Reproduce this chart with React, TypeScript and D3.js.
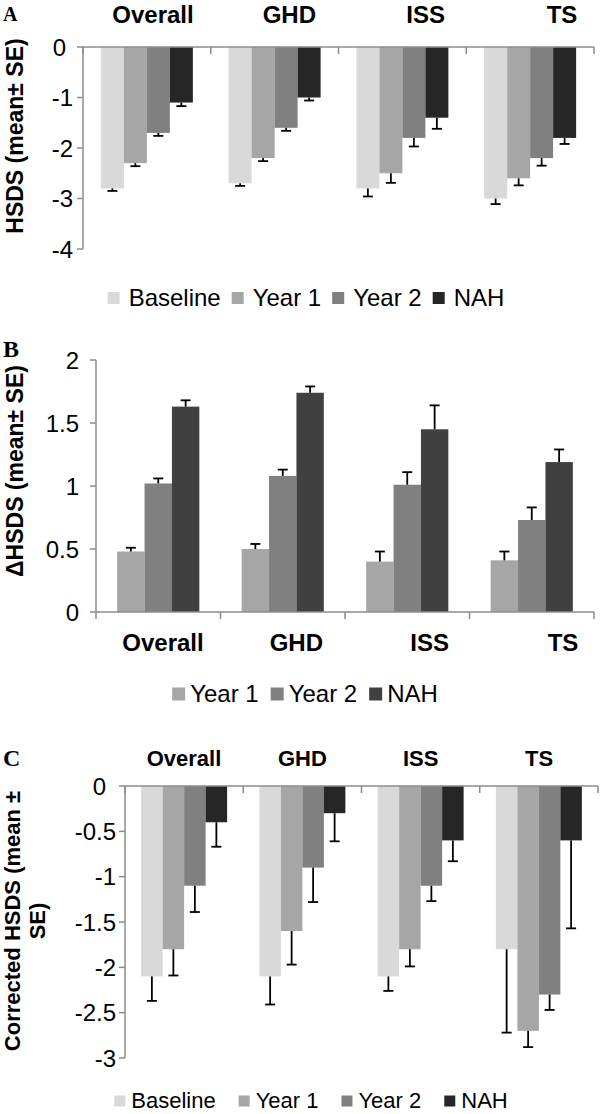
import React from 'react';
import * as d3 from 'd3';

const FONT = "'Liberation Sans', Arial, Helvetica, sans-serif";
const SERIF = "'Liberation Serif', 'Times New Roman', serif";

const categories = ['Overall', 'GHD', 'ISS', 'TS'];

// panel A: HSDS at baseline, year 1, year 2 and near adult height
const aBaseline = [-2.8, -2.7, -2.8, -3.0];
const aBaselineSE = [0.05, 0.05, 0.16, 0.11];
const aYear1 = [-2.3, -2.2, -2.5, -2.6];
const aYear1SE = [0.06, 0.06, 0.19, 0.14];
const aYear2 = [-1.7, -1.6, -1.8, -2.2];
const aYear2SE = [0.06, 0.06, 0.17, 0.15];
const aNAH = [-1.1, -1.0, -1.4, -1.8];
const aNAHSE = [0.07, 0.06, 0.22, 0.12];
const aTicks = [0, -1, -2, -3, -4];

// panel B: delta HSDS
const bYear1 = [0.48, 0.5, 0.4, 0.41];
const bYear1SE = [0.03, 0.04, 0.08, 0.07];
const bYear2 = [1.02, 1.08, 1.01, 0.73];
const bYear2SE = [0.04, 0.05, 0.1, 0.1];
const bNAH = [1.63, 1.74, 1.45, 1.19];
const bNAHSE = [0.05, 0.05, 0.19, 0.1];
const bTicks = [0, 0.5, 1, 1.5, 2];

// panel C: corrected HSDS
const cBaseline = [-2.1, -2.1, -2.1, -1.8];
const cBaselineSE = [0.27, 0.31, 0.16, 0.92];
const cYear1 = [-1.8, -1.6, -1.8, -2.7];
const cYear1SE = [0.29, 0.37, 0.19, 0.18];
const cYear2 = [-1.1, -0.9, -1.1, -2.3];
const cYear2SE = [0.29, 0.38, 0.17, 0.17];
const cNAH = [-0.4, -0.3, -0.6, -0.6];
const cNAHSE = [0.27, 0.31, 0.23, 0.97];
const cTicks = [0, -0.5, -1, -1.5, -2, -2.5, -3];

const GREY_LIGHT = '#d9d9d9';
const GREY_MID = '#a6a6a6';
const GREY_DARK = '#808080';
const NEAR_BLACK = '#262626';
const DARK = '#404040';
const AXIS = '#8c8c8c';

const ctx = document.createElement('canvas').getContext('2d');
const textWidth = (s, size) => {
    ctx.font = `${size}px ${FONT}`;
    return ctx.measureText(s).width;
};

const Legend = ({series, cx, cy, size, sq, pad, gap}) => {
    const widths = series.map(s => sq + pad + textWidth(s.name, size));
    const total = d3.sum(widths) + gap * (series.length - 1);
    let x = cx - total / 2;
    return (
        <g>
            {series.map((s, i) => {
                const x0 = x;
                x += widths[i] + gap;
                return (
                    <g key={s.name}>
                        <rect x={x0} y={cy - sq / 2 + 1} width={sq} height={sq} fill={s.color}/>
                        <text x={x0 + sq + pad} y={cy + size * 0.36} fontSize={size} fontFamily={FONT} fill="#000">{s.name}</text>
                    </g>
                );
            })}
        </g>
    );
};

const Panel = (p) => {
    const x0 = d3.scaleBand().domain(categories).range(p.xRange).paddingInner(p.pad).paddingOuter(p.pad / 2);
    const x1 = d3.scaleBand().domain(p.series.map(s => s.name)).range([0, x0.bandwidth()]);
    const y = d3.scaleLinear().domain(p.yDomain).range(p.yRange);
    const labelX = d3.scalePoint().domain(categories).range(p.labelRange);
    const zeroY = y(0);
    const step = x0.step();
    const boundaries = d3.range(categories.length + 1).map(i => p.xRange[0] + i * step);
    const [yTop, yBottom] = d3.extent(p.yRange.concat([y(p.tickValues[p.tickValues.length - 1])]));

    return (
        <g>
            <text x={p.letter.x} y={p.letter.y} fontFamily={SERIF} fontWeight="bold" fontSize={p.letter.size}>{p.letter.text}</text>

            {/* y axis title */}
            <g transform={`translate(${p.title.x},${p.title.y}) rotate(-90)`}>
                {p.title.lines.map((l, i) => (
                    <text key={i} x={0} y={i * p.title.lineGap} textAnchor="middle" fontFamily={FONT} fontWeight="bold" fontSize={p.title.size}>{l}</text>
                ))}
            </g>

            {/* bars */}
            {p.series.map(s => (
                <g key={s.name}>
                    {categories.map((c, i) => {
                        const v = s.mean[i];
                        const bx = x0(c) + x1(s.name);
                        return (
                            <rect key={c} x={bx} width={x1.bandwidth()} y={Math.min(zeroY, y(v))}
                                  height={Math.abs(y(v) - zeroY)} fill={s.color}/>
                        );
                    })}
                </g>
            ))}

            {/* error bars, only away from zero */}
            {p.series.map(s => (
                <g key={s.name + 'err'} stroke="#000" strokeWidth={1.8}>
                    {categories.map((c, i) => {
                        const v = s.mean[i];
                        const end = v + Math.sign(v) * s.se[i];
                        const cxp = x0(c) + x1(s.name) + x1.bandwidth() / 2;
                        return (
                            <g key={c}>
                                <line x1={cxp} x2={cxp} y1={y(v)} y2={y(end)}/>
                                <line x1={cxp - 5} x2={cxp + 5} y1={y(end)} y2={y(end)}/>
                            </g>
                        );
                    })}
                </g>
            ))}

            {/* y axis */}
            <line x1={p.xRange[0]} x2={p.xRange[0]} y1={yTop} y2={yBottom} stroke={AXIS} strokeWidth={1.5}/>
            {p.tickValues.map(t => (
                <g key={t}>
                    <line x1={p.xRange[0] - 6} x2={p.xRange[0]} y1={y(t)} y2={y(t)} stroke={AXIS} strokeWidth={1.5}/>
                    <text x={t === 0 ? p.zeroLabelX : p.tickLabelX} y={y(t)} dy="0.36em" textAnchor="end"
                          fontFamily={FONT} fontSize={p.tickSize}>{t}</text>
                </g>
            ))}

            {/* category axis at zero */}
            <line x1={p.xRange[0]} x2={p.xRange[1]} y1={zeroY} y2={zeroY} stroke={AXIS} strokeWidth={1.5}/>
            {boundaries.map((bx, i) => (
                <line key={i} x1={bx} x2={bx} y1={zeroY} y2={zeroY + 7} stroke={AXIS} strokeWidth={1.5}/>
            ))}
            {categories.map(c => (
                <text key={c} x={labelX(c)} y={p.labelY} textAnchor="middle" fontFamily={FONT} fontWeight="bold"
                      fontSize={p.labelSize}>{c}</text>
            ))}

            <Legend series={p.series} {...p.legend}/>
        </g>
    );
};

const seriesA = [
    {name: 'Baseline', color: GREY_LIGHT, mean: aBaseline, se: aBaselineSE},
    {name: 'Year 1', color: GREY_MID, mean: aYear1, se: aYear1SE},
    {name: 'Year 2', color: GREY_DARK, mean: aYear2, se: aYear2SE},
    {name: 'NAH', color: NEAR_BLACK, mean: aNAH, se: aNAHSE},
];
const seriesB = [
    {name: 'Year 1', color: GREY_MID, mean: bYear1, se: bYear1SE},
    {name: 'Year 2', color: GREY_DARK, mean: bYear2, se: bYear2SE},
    {name: 'NAH', color: DARK, mean: bNAH, se: bNAHSE},
];
const seriesC = [
    {name: 'Baseline', color: GREY_LIGHT, mean: cBaseline, se: cBaselineSE},
    {name: 'Year 1', color: GREY_MID, mean: cYear1, se: cYear1SE},
    {name: 'Year 2', color: GREY_DARK, mean: cYear2, se: cYear2SE},
    {name: 'NAH', color: NEAR_BLACK, mean: cNAH, se: cNAHSE},
];

export default function App() {
    return (
        <svg width={600} height={1114} style={{position: 'absolute', left: 0, top: 0, background: '#fff'}}>
            <rect width={600} height={1114} fill="#fff"/>
            <Panel
                series={seriesA}
                xRange={[83, 594]} pad={0.28}
                yDomain={[-4, 0]} yRange={[249, 47]} tickValues={aTicks}
                tickLabelX={73} zeroLabelX={66} tickSize={24}
                labelRange={[153, 562]} labelY={23} labelSize={24}
                title={{x: 23, y: 136, size: 23, lines: ['HSDS (mean\u00b1 SE)'], lineGap: 0}}
                letter={{x: 3, y: 21, size: 20, text: 'A'}}
                legend={{cx: 306, cy: 297, size: 24, sq: 12, pad: 9, gap: 11}}
            />
            <Panel
                series={seriesB}
                xRange={[96, 594]} pad={0.34}
                yDomain={[0, 2]} yRange={[612, 360]} tickValues={bTicks}
                tickLabelX={79} zeroLabelX={79} tickSize={24}
                labelRange={[163, 563]} labelY={651} labelSize={24}
                title={{x: 23, y: 471, size: 23, lines: ['\u0394HSDS (mean\u00b1 SE)'], lineGap: 0}}
                letter={{x: 3, y: 357, size: 24, text: 'B'}}
                legend={{cx: 305, cy: 693, size: 24, sq: 13, pad: 5, gap: 12}}
            />
            <Panel
                series={seriesC}
                xRange={[125, 598]} pad={0.273}
                yDomain={[-3, 0]} yRange={[1058, 786]} tickValues={cTicks}
                tickLabelX={116} zeroLabelX={106} tickSize={24}
                labelRange={[184, 539]} labelY={766} labelSize={22}
                title={{x: 20, y: 921, size: 22, lines: ['Corrected HSDS (mean \u00b1', 'SE)'], lineGap: 25}}
                letter={{x: 3, y: 766, size: 24, text: 'C'}}
                legend={{cx: 311, cy: 1100, size: 22, sq: 11, pad: 6, gap: 23}}
            />
        </svg>
    );
}
